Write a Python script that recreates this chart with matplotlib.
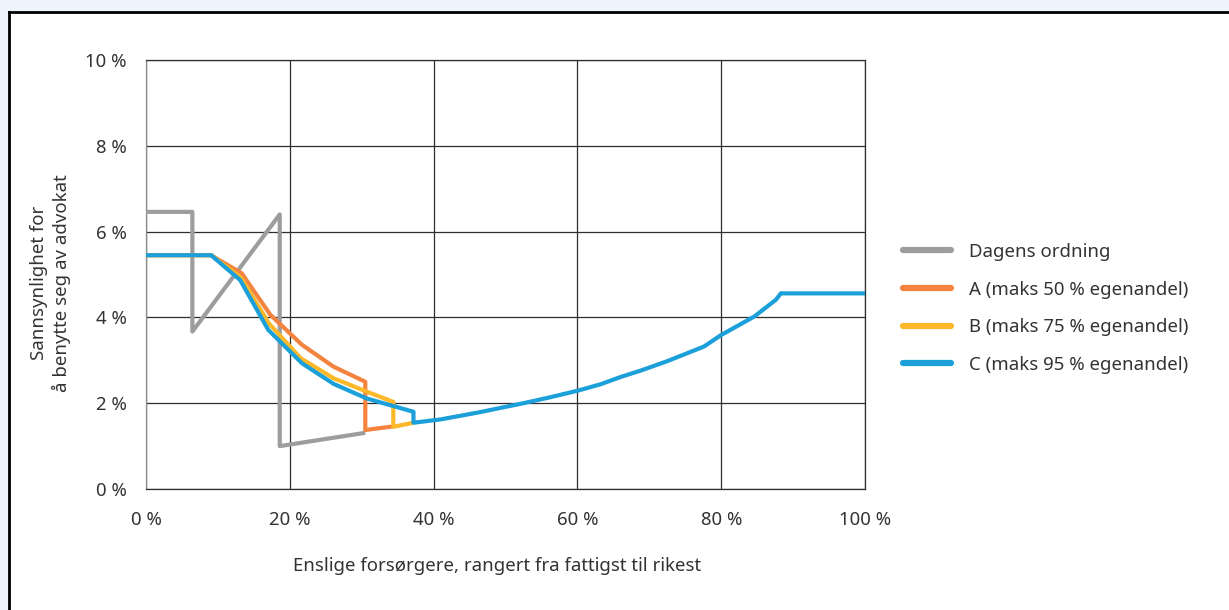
import matplotlib
matplotlib.use("Agg")
import matplotlib.pyplot as plt
from matplotlib.lines import Line2D

plt.rcParams['font.family'] = ['Noto Sans', 'DejaVu Sans']

# Share of single providers, ranked poorest to richest (%)
tail_x = [37.2, 40.9, 46.1, 52.5, 56.0, 60.0, 63.2, 66.0, 68.8, 72.5, 77.6, 80.0, 84.6, 87.6, 88.3, 100.0]
tail_y = [1.545, 1.62, 1.78, 2.00, 2.13, 2.29, 2.44, 2.61, 2.76, 2.98, 3.32, 3.59, 4.02, 4.41, 4.56, 4.56]

dagens_x = [0.0, 6.45, 6.45, 18.6, 18.6, 30.5]
dagens_y = [6.46, 6.46, 3.67, 6.40, 1.00, 1.31]

a_x = [0.0, 9.05, 13.3, 17.3, 21.7, 26.1, 30.5, 30.5, 34.4]
a_y = [5.45, 5.45, 5.03, 4.06, 3.36, 2.85, 2.50, 1.375, 1.46]

b_x = [0.0, 9.05, 13.2, 17.1, 21.5, 26.1, 30.7, 34.4, 34.4, 37.2]
b_y = [5.45, 5.45, 4.93, 3.86, 3.05, 2.58, 2.27, 2.03, 1.45, 1.545]

c_x = [0.0, 9.05, 13.1, 17.0, 21.7, 26.1, 30.7, 37.2] + tail_x
c_y = [5.45, 5.45, 4.87, 3.71, 2.93, 2.45, 2.11, 1.80] + tail_y

labels = ["Dagens ordning", "A (maks 50 % egenandel)",
          "B (maks 75 % egenandel)", "C (maks 95 % egenandel)"]
colors = ["#9d9d9f", "#f4833f", "#fdb82a", "#1ca0d9"]

x_ticks = [0, 20, 40, 60, 80, 100]
y_ticks = [0, 2, 4, 6, 8, 10]

FS = 13.4
W, H = 1229, 610
fig = plt.figure(figsize=(W / 100, H / 100), dpi=100)
fig.patch.set_facecolor("#eef3fc")

# White panel with black border on the left and top
panel = plt.Rectangle((9 / W, -0.05), 1.1, 1.05 - 12 / H, transform=fig.transFigure,
                      facecolor="white", edgecolor="none", zorder=-5)
fig.patches.append(panel)
fig.lines.append(Line2D([9 / W, 9 / W], [0, 1 - 12 / H], transform=fig.transFigure,
                        color="black", lw=2, zorder=-4))
fig.lines.append(Line2D([9 / W, 1], [1 - 12 / H, 1 - 12 / H], transform=fig.transFigure,
                        color="black", lw=2, zorder=-4))

ax = fig.add_axes([146 / W, 1 - 489 / H, (865 - 146) / W, (489 - 60) / H])
ax.set_zorder(2)
ax.set_facecolor("white")

series = [(dagens_x, dagens_y), (a_x, a_y), (b_x, b_y), (c_x, c_y)]
for (xs, ys), lab, col in zip(series, labels, colors):
    ax.plot(xs, ys, color=col, lw=3.0, label=lab, solid_joinstyle="round",
            solid_capstyle="butt", zorder=3)

ax.set_xlim(0, 100)
ax.set_ylim(0, 10)
ax.set_xticks(x_ticks)
ax.set_yticks(y_ticks)
ax.set_xticklabels([f"{v} %" for v in x_ticks])
ax.set_yticklabels([f"{v} %" for v in y_ticks])
ax.grid(True, color="#2e2e2e", lw=0.9)
ax.set_axisbelow(True)
for s in ax.spines.values():
    s.set_color("#2e2e2e")
    s.set_linewidth(0.9)
ax.spines["left"].set_color("#8a8a8a")
ax.tick_params(length=0, labelsize=FS, colors="#333333")
ax.tick_params(axis="x", pad=16)
ax.tick_params(axis="y", pad=14)

fig.text(497 / W, 1 - 566 / H, "Enslige forsørgere, rangert fra fattigst til rikest",
         ha="center", va="center", fontsize=FS, color="#333333")
fig.text(50.5 / W, 1 - 283 / H, "Sannsynlighet for\nå benytte seg av advokat",
         ha="center", va="center", rotation=90, fontsize=FS, color="#333333",
         multialignment="center", linespacing=1.25)

handles = [Line2D([], [], color=c, lw=4.5, solid_capstyle="round") for c in colors]
fig.legend(handles, labels, loc="upper left", bbox_to_anchor=(903 / W, 1 - 243 / H),
           frameon=False, fontsize=FS, handlelength=2.6, handletextpad=0.96,
           labelspacing=1.05, borderpad=0, borderaxespad=0, labelcolor="#333333")

fig.savefig("out.png", dpi=100, facecolor=fig.get_facecolor())
